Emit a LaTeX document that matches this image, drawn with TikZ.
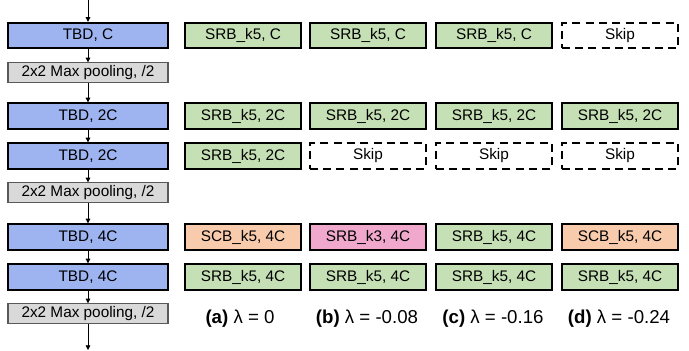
\documentclass[tikz,border=0pt]{standalone}
\usepackage{fontspec}
\setmainfont{Liberation Sans}
\usetikzlibrary{arrows.meta}
\definecolor{tbdblue}{RGB}{157,180,240}
\definecolor{poolgray}{RGB}{217,217,217}
\definecolor{srbgreen}{RGB}{197,224,180}
\definecolor{scborange}{RGB}{248,203,173}
\definecolor{srbpink}{RGB}{240,168,204}
\tikzset{
  base/.style={rectangle, inner sep=0pt, font=\fontsize{11.5}{13}\selectfont, text=black},
  tbd/.style={base, draw=black, line width=1.5pt, fill=tbdblue, minimum width=120pt, minimum height=19pt},
  pool/.style={base, draw=black!65, line width=0.8pt, fill=poolgray, minimum width=120pt, minimum height=14.5pt},
  cell/.style={base, draw=black, line width=1.5pt, minimum width=87.5pt, minimum height=19pt},
  srb/.style={cell, fill=srbgreen},
  scb/.style={cell, fill=scborange},
  pink/.style={cell, fill=srbpink},
  skip/.style={cell, dash pattern=on 6pt off 4pt, fill=white},
  captext/.style={font=\fontsize{14}{16}\selectfont, inner sep=0pt},
  flow/.style={draw=black, line width=0.6pt, -{Triangle[length=3.5pt,width=3.5pt]}}
}
\begin{document}
\begin{tikzpicture}[x=0.75pt,y=-0.75pt]
\useasboundingbox (0,0) rectangle (689,350);
% left column
\coordinate (top) at (88,0);
\coordinate (bot) at (88,350);
\node[tbd]  (t1) at (88,35.5)  {TBD, C};
\node[pool] (p1) at (88,72.5)  {2x2 Max pooling, /2};
\node[tbd]  (t2) at (88,116)   {TBD, 2C};
\node[tbd]  (t3) at (88,156)   {TBD, 2C};
\node[pool] (p2) at (88,192.5) {2x2 Max pooling, /2};
\node[tbd]  (t4) at (88,237)   {TBD, 4C};
\node[tbd]  (t5) at (88,277)   {TBD, 4C};
\node[pool] (p3) at (88,313.5) {2x2 Max pooling, /2};
\draw[flow] (top) -- (t1.north);
\draw[flow] (t1) -- (p1);
\draw[flow] (p1) -- (t2);
\draw[flow] (t2) -- (t3);
\draw[flow] (t3) -- (p2);
\draw[flow] (p2) -- (t4);
\draw[flow] (t4) -- (t5);
\draw[flow] (t5) -- (p3);
\draw[flow] (p3.south) -- (bot);
% row 1
\node[srb]  (a1) at (243,35.5) {SRB\_k5, C};
\node[srb]  (b1) at (368,35.5) {SRB\_k5, C};
\node[srb]  (c1) at (494,35.5) {SRB\_k5, C};
\node[skip] (d1) at (620,35.5) {Skip};
% row 2
\node[srb]  (a2) at (243,116) {SRB\_k5, 2C};
\node[srb]  (b2) at (368,116) {SRB\_k5, 2C};
\node[srb]  (c2) at (494,116) {SRB\_k5, 2C};
\node[srb]  (d2) at (620,116) {SRB\_k5, 2C};
% row 3
\node[srb]  (a3) at (243,156) {SRB\_k5, 2C};
\node[skip] (b3) at (368,156) {Skip};
\node[skip] (c3) at (494,156) {Skip};
\node[skip] (d3) at (620,156) {Skip};
% row 4
\node[scb]  (a4) at (243,237) {SCB\_k5, 4C};
\node[pink] (b4) at (368,237) {SRB\_k3, 4C};
\node[srb]  (c4) at (494,237) {SRB\_k5, 4C};
\node[scb]  (d4) at (620,237) {SCB\_k5, 4C};
% row 5
\node[srb]  (a5) at (243,277) {SRB\_k5, 4C};
\node[srb]  (b5) at (368,277) {SRB\_k5, 4C};
\node[srb]  (c5) at (494,277) {SRB\_k5, 4C};
\node[srb]  (d5) at (620,277) {SRB\_k5, 4C};
% captions
\node[captext] (ca) at (240,319) {\textbf{(a)} λ = 0};
\node[captext] (cb) at (367,319) {\textbf{(b)} λ = -0.08};
\node[captext] (cc) at (493,319) {\textbf{(c)} λ = -0.16};
\node[captext] (cd) at (619,319) {\textbf{(d)} λ = -0.24};
\end{tikzpicture}
\end{document}
